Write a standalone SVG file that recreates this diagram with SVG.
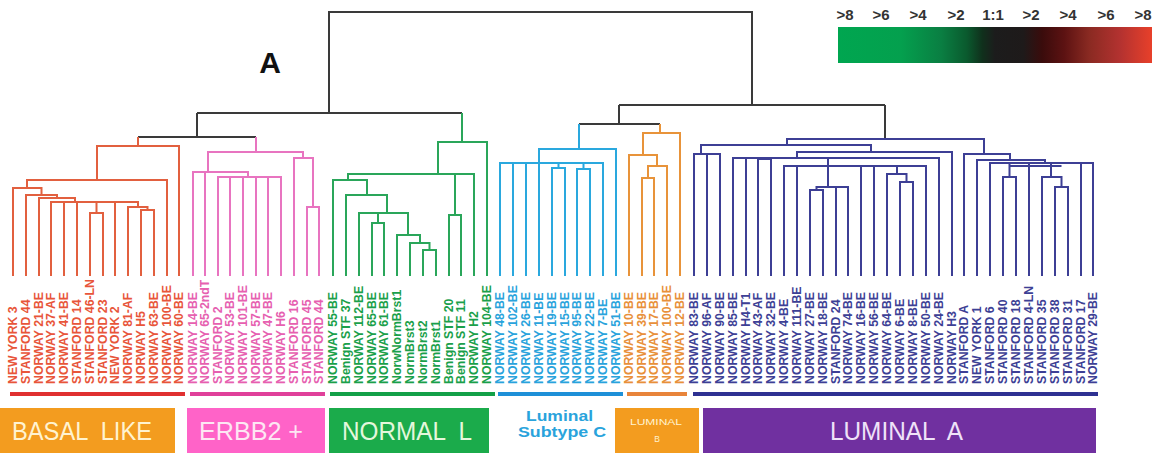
<svg xmlns="http://www.w3.org/2000/svg" width="1159" height="455" viewBox="0 0 1159 455">
<defs>
<linearGradient id="scale" x1="0" y1="0" x2="1" y2="0">
<stop offset="0" stop-color="#00a650"/>
<stop offset="0.2" stop-color="#04a04e"/>
<stop offset="0.33" stop-color="#0a7e42"/>
<stop offset="0.41" stop-color="#0a5a2e"/>
<stop offset="0.46" stop-color="#10301c"/>
<stop offset="0.5" stop-color="#1c1c1c"/>
<stop offset="0.59" stop-color="#1e1a1a"/>
<stop offset="0.65" stop-color="#3a0c0c"/>
<stop offset="0.72" stop-color="#5c1212"/>
<stop offset="0.8" stop-color="#8a2a22"/>
<stop offset="0.9" stop-color="#b43230"/>
<stop offset="1" stop-color="#e8402a"/>
</linearGradient>
</defs>
<style>
.br{fill:none;stroke-width:2}
.k{stroke:#3a3a3a}
.r{stroke:#e2603f}
.p{stroke:#e874c0}
.g{stroke:#2aa65a}
.b{stroke:#2aa8de}
.o{stroke:#e8933a}
.n{stroke:#3d3f95}
.lb{font-family:"Liberation Sans",Arial,sans-serif;font-weight:bold;font-size:12.3px}
.lr{fill:#e8553a}.lp{fill:#e660b0}.lg{fill:#1aa04a}.lbl{fill:#29a3dc}.lo{fill:#e8903a}.ln{fill:#3d3f95}
.box{font-family:"Liberation Sans",Arial,sans-serif;font-size:25px;white-space:pre}
.leg{font-family:"Liberation Sans",Arial,sans-serif;font-size:15px;font-weight:bold;fill:#333;text-anchor:middle}
</style>
<rect width="1159" height="455" fill="#ffffff"/>

<text x="270" y="73" font-family="Liberation Sans, Arial, sans-serif" font-weight="bold" font-size="30" text-anchor="middle" fill="#111">A</text>

<g id="connectors">
<path class="br k" d="M329 113 V12 H752 V105"/>
<path class="br k" d="M197 113 H462"/>
<path class="br k" d="M197 113 V137 M138 137 H256"/>
<path class="br k" d="M619 105 H885 M619 105 V124 M579 124 H660 M885 105 V139"/>
</g>

<g id="basal-like">
<path class="br r" d="M138 137 V146 M90 276 V213 H103 V276 M141 276 V210 H154 V276 M128 276 V207 H147.5 V210 M51 276 V202 H138 V207 M64 276 V202 M77 276 V202 M96.5 213 V202 M115 276 V202 M39 276 V198 H75 V202 M26 276 V195 H57 V198 M13 276 V188 H41.5 V195 M27 188 V180 H167 V276 M97 180 V146 H179 V276"/>
<g class="lb lr">
<text transform="translate(17,384) rotate(-90)">NEW YORK 3</text>
<text transform="translate(30,384) rotate(-90)">STANFORD 44</text>
<text transform="translate(43,384) rotate(-90)">NORWAY 21-BE</text>
<text transform="translate(55,384) rotate(-90)">NORWAY 37-AF</text>
<text transform="translate(68,384) rotate(-90)">NORWAY 41-BE</text>
<text transform="translate(81,384) rotate(-90)">STANFORD 14</text>
<text transform="translate(94,384) rotate(-90)">STANFORD 46-LN</text>
<text transform="translate(107,384) rotate(-90)">STANFORD 23</text>
<text transform="translate(119,384) rotate(-90)">NEW YORK 2</text>
<text transform="translate(132,384) rotate(-90)">NORWAY 81-AF</text>
<text transform="translate(145,384) rotate(-90)">NORWAY H5</text>
<text transform="translate(158,384) rotate(-90)">NORWAY 63-BE</text>
<text transform="translate(171,384) rotate(-90)">NORWAY 100-BE</text>
<text transform="translate(183,384) rotate(-90)">NORWAY 60-BE</text>
</g>
<rect x="10" y="392" width="175" height="4" fill="#e03030"/>
<rect x="0" y="408" width="175" height="45" fill="#f39c1f"/>
<text class="box" x="12" y="440" fill="#fff3d0" textLength="140" lengthAdjust="spacingAndGlyphs">BASAL  LIKE</text>
</g>

<g id="erbb2">
<path class="br p" d="M256 137 V152 M218 276 V177 H281 V276 M230 276 V177 M243 276 V177 M256 276 V177 M268 276 V177 M193 276 V172 H248 V177 M205 276 V172 M307 276 V207 H319 V276 M294 276 V158 H313 V207 M208 172 V152 H303 V158"/>
<g class="lb lp">
<text transform="translate(197,384) rotate(-90)">NORWAY 14-BE</text>
<text transform="translate(209,384) rotate(-90)">NORWAY 65-2ndT</text>
<text transform="translate(222,384) rotate(-90)">STANFORD 2</text>
<text transform="translate(234,384) rotate(-90)">NORWAY 53-BE</text>
<text transform="translate(247,384) rotate(-90)">NORWAY 101-BE</text>
<text transform="translate(260,384) rotate(-90)">NORWAY 57-BE</text>
<text transform="translate(272,384) rotate(-90)">NORWAY 47-BE</text>
<text transform="translate(285,384) rotate(-90)">NORWAY H6</text>
<text transform="translate(298,384) rotate(-90)">STANFORD 16</text>
<text transform="translate(311,384) rotate(-90)">STANFORD 45</text>
<text transform="translate(323,384) rotate(-90)">STANFORD 44</text>
</g>
<rect x="190" y="392" width="135" height="4" fill="#e0409a"/>
<rect x="187" y="408" width="138" height="45" fill="#ff63c8"/>
<text class="box" x="199" y="440" fill="#fde6f3" textLength="104" lengthAdjust="spacingAndGlyphs">ERBB2 +</text>
</g>

<g id="normal-like">
<path class="br g" d="M462 113 V142 M423 276 V250 H436 V276 M410 276 V243 H429.5 V250 M397 276 V235 H420 V243 M372 276 V223 H384 V276 M359 276 V213 H408 V235 M378 223 V213 M346 276 V195 H387 V213 M333 276 V180 H367 V195 M449 276 V215 H461 V276 M348 180 V174 H474 V276 M455 215 V174 M438 174 V142 H487 V276"/>
<g class="lb lg">
<text transform="translate(337,384) rotate(-90)">NORWAY 55-BE</text>
<text transform="translate(350,384) rotate(-90)">Benign STF 37</text>
<text transform="translate(363,384) rotate(-90)">NORWAY 112-BE</text>
<text transform="translate(376,384) rotate(-90)">NORWAY 65-BE</text>
<text transform="translate(388,384) rotate(-90)">NORWAY 61-BE</text>
<text transform="translate(401,384) rotate(-90)">NorwNormBrst1</text>
<text transform="translate(414,384) rotate(-90)">NormBrst3</text>
<text transform="translate(427,384) rotate(-90)">NormBrst2</text>
<text transform="translate(440,384) rotate(-90)">NormBrst1</text>
<text transform="translate(453,384) rotate(-90)">Benign STF 20</text>
<text transform="translate(465,384) rotate(-90)">Benign STF 11</text>
<text transform="translate(478,384) rotate(-90)">NORWAY H2</text>
<text transform="translate(491,384) rotate(-90)">NORWAY 104-BE</text>
</g>
<rect x="330" y="392" width="165" height="4" fill="#12a048"/>
<rect x="329" y="408" width="160" height="45" fill="#1bab4b"/>
<text class="box" x="342" y="440" fill="#e4f7dc" textLength="130" lengthAdjust="spacingAndGlyphs">NORMAL  L</text>
</g>

<g id="luminal-c">
<path class="br b" d="M579 124 V149 M552 276 V168 H565 V276 M577 276 V169 H590 V276 M500 276 V163 H603 V276 M513 276 V163 M526 276 V163 M539 276 V163 M558.5 168 V163 M583.5 169 V163 M539 163 V149 H616 V276"/>
<g class="lb lbl">
<text transform="translate(504,384) rotate(-90)">NORWAY 48-BE</text>
<text transform="translate(517,384) rotate(-90)">NORWAY 102-BE</text>
<text transform="translate(530,384) rotate(-90)">NORWAY 26-BE</text>
<text transform="translate(543,384) rotate(-90)">NORWAY 11-BE</text>
<text transform="translate(556,384) rotate(-90)">NORWAY 19-BE</text>
<text transform="translate(569,384) rotate(-90)">NORWAY 15-BE</text>
<text transform="translate(581,384) rotate(-90)">NORWAY 95-BE</text>
<text transform="translate(594,384) rotate(-90)">NORWAY 22-BE</text>
<text transform="translate(607,384) rotate(-90)">NORWAY 7-BE</text>
<text transform="translate(620,384) rotate(-90)">NORWAY 51-BE</text>
</g>
<rect x="498" y="392" width="125" height="4" fill="#1e90d8"/>
<text x="526" y="421" font-family="Liberation Sans, Arial, sans-serif" font-weight="bold" font-size="15" fill="#29a3dc" textLength="67" lengthAdjust="spacingAndGlyphs">Luminal</text>
<text x="518" y="437" font-family="Liberation Sans, Arial, sans-serif" font-weight="bold" font-size="15" fill="#29a3dc" textLength="88" lengthAdjust="spacingAndGlyphs">Subtype C</text>
</g>

<g id="luminal-b">
<path class="br o" d="M660 124 V133 M642 276 V178 H654 V276 M648 178 V166 H667 V276 M629 276 V155 H657 V166 M643 155 V133 H680 V276"/>
<g class="lb lo">
<text transform="translate(633,384) rotate(-90)">NORWAY 10-BE</text>
<text transform="translate(646,384) rotate(-90)">NORWAY 39-BE</text>
<text transform="translate(658,384) rotate(-90)">NORWAY 17-BE</text>
<text transform="translate(671,384) rotate(-90)">NORWAY 100-BE</text>
<text transform="translate(684,384) rotate(-90)">NORWAY 12-BE</text>
</g>
<rect x="627" y="392" width="60" height="4" fill="#e8843a"/>
<rect x="615" y="408" width="84" height="45" fill="#f39c1f"/>
<text x="630" y="425" font-family="Liberation Sans, Arial, sans-serif" font-size="8.5" fill="#fff3d0" textLength="52" lengthAdjust="spacingAndGlyphs">LUMINAL</text>
<text x="657" y="442" font-family="Liberation Sans, Arial, sans-serif" font-size="8.5" text-anchor="middle" fill="#fff3d0">B</text>
</g>

<g id="luminal-a">
<path class="br n" d="M694 276 V154 H720 V276 M707 276 V154 M758 276 V159 H771 V276 M810 276 V190 H823 V276 M816.5 190 V187 H848 V276 M836 276 V187 M900 276 V182 H913 V276 M887 276 V174 H906.5 V182 M784 276 V166 H926 V276 M797 276 V166 M828 187 V166 M861 276 V166 M874 276 V166 M897 174 V166 M733 276 V158 H939 V276 M746 276 V158 M764.5 159 V158 M828 166 V158 M797 158 V152 H952 V276 M701 154 V145 H871 V152 M1055 276 V187 H1068 V276 M1042 276 V177 H1061.5 V187 M1003 276 V177 H1016 V276 M990 276 V163 H1093 V276 M1009.5 177 V163 M1029 276 V163 M1051 177 V163 M1081 276 V163 M1009.5 166 H1061.5 M977 276 V160 H1045 V163 M964 276 V154 H1010 V160 M787 145 V139 H984 V154"/>
<g class="lb ln">
<text transform="translate(698,384) rotate(-90)">NORWAY 83-BE</text>
<text transform="translate(711,384) rotate(-90)">NORWAY 96-AF</text>
<text transform="translate(724,384) rotate(-90)">NORWAY 90-BE</text>
<text transform="translate(737,384) rotate(-90)">NORWAY 85-BE</text>
<text transform="translate(750,384) rotate(-90)">NORWAY H4-T1</text>
<text transform="translate(762,384) rotate(-90)">NORWAY 43-AF</text>
<text transform="translate(775,384) rotate(-90)">NORWAY 32-BE</text>
<text transform="translate(788,384) rotate(-90)">NORWAY 4-BE</text>
<text transform="translate(801,384) rotate(-90)">NORWAY 111-BE</text>
<text transform="translate(814,384) rotate(-90)">NORWAY 27-BE</text>
<text transform="translate(827,384) rotate(-90)">NORWAY 18-BE</text>
<text transform="translate(840,384) rotate(-90)">STANFORD 24</text>
<text transform="translate(852,384) rotate(-90)">NORWAY 74-BE</text>
<text transform="translate(865,384) rotate(-90)">NORWAY 16-BE</text>
<text transform="translate(878,384) rotate(-90)">NORWAY 56-BE</text>
<text transform="translate(891,384) rotate(-90)">NORWAY 64-BE</text>
<text transform="translate(904,384) rotate(-90)">NORWAY 6-BE</text>
<text transform="translate(917,384) rotate(-90)">NORWAY 8-BE</text>
<text transform="translate(930,384) rotate(-90)">NORWAY 50-BE</text>
<text transform="translate(943,384) rotate(-90)">NORWAY 24-BE</text>
<text transform="translate(956,384) rotate(-90)">NORWAY H3</text>
<text transform="translate(968,384) rotate(-90)">STANFORD A</text>
<text transform="translate(981,384) rotate(-90)">NEW YORK 1</text>
<text transform="translate(994,384) rotate(-90)">STANFORD 6</text>
<text transform="translate(1007,384) rotate(-90)">STANFORD 40</text>
<text transform="translate(1020,384) rotate(-90)">STANFORD 18</text>
<text transform="translate(1033,384) rotate(-90)">STANFORD 4-LN</text>
<text transform="translate(1046,384) rotate(-90)">STANFORD 35</text>
<text transform="translate(1059,384) rotate(-90)">STANFORD 38</text>
<text transform="translate(1072,384) rotate(-90)">STANFORD 31</text>
<text transform="translate(1085,384) rotate(-90)">STANFORD 17</text>
<text transform="translate(1097,384) rotate(-90)">NORWAY 29-BE</text>
</g>
<rect x="693" y="392" width="405" height="4" fill="#2e3192"/>
<rect x="703" y="408" width="393" height="45" fill="#7030a0"/>
<text class="box" x="830" y="440" fill="#efe2f8" textLength="133" lengthAdjust="spacingAndGlyphs">LUMINAL  A</text>
</g>

<g id="legend">
<rect x="838" y="27" width="314" height="36" fill="url(#scale)"/>
<text class="leg" x="845" y="20">&gt;8</text>
<text class="leg" x="881" y="20">&gt;6</text>
<text class="leg" x="918" y="20">&gt;4</text>
<text class="leg" x="956" y="20">&gt;2</text>
<text class="leg" x="993" y="20">1:1</text>
<text class="leg" x="1031" y="20">&gt;2</text>
<text class="leg" x="1068" y="20">&gt;4</text>
<text class="leg" x="1106" y="20">&gt;6</text>
<text class="leg" x="1143" y="20">&gt;8</text>
</g>
</svg>
